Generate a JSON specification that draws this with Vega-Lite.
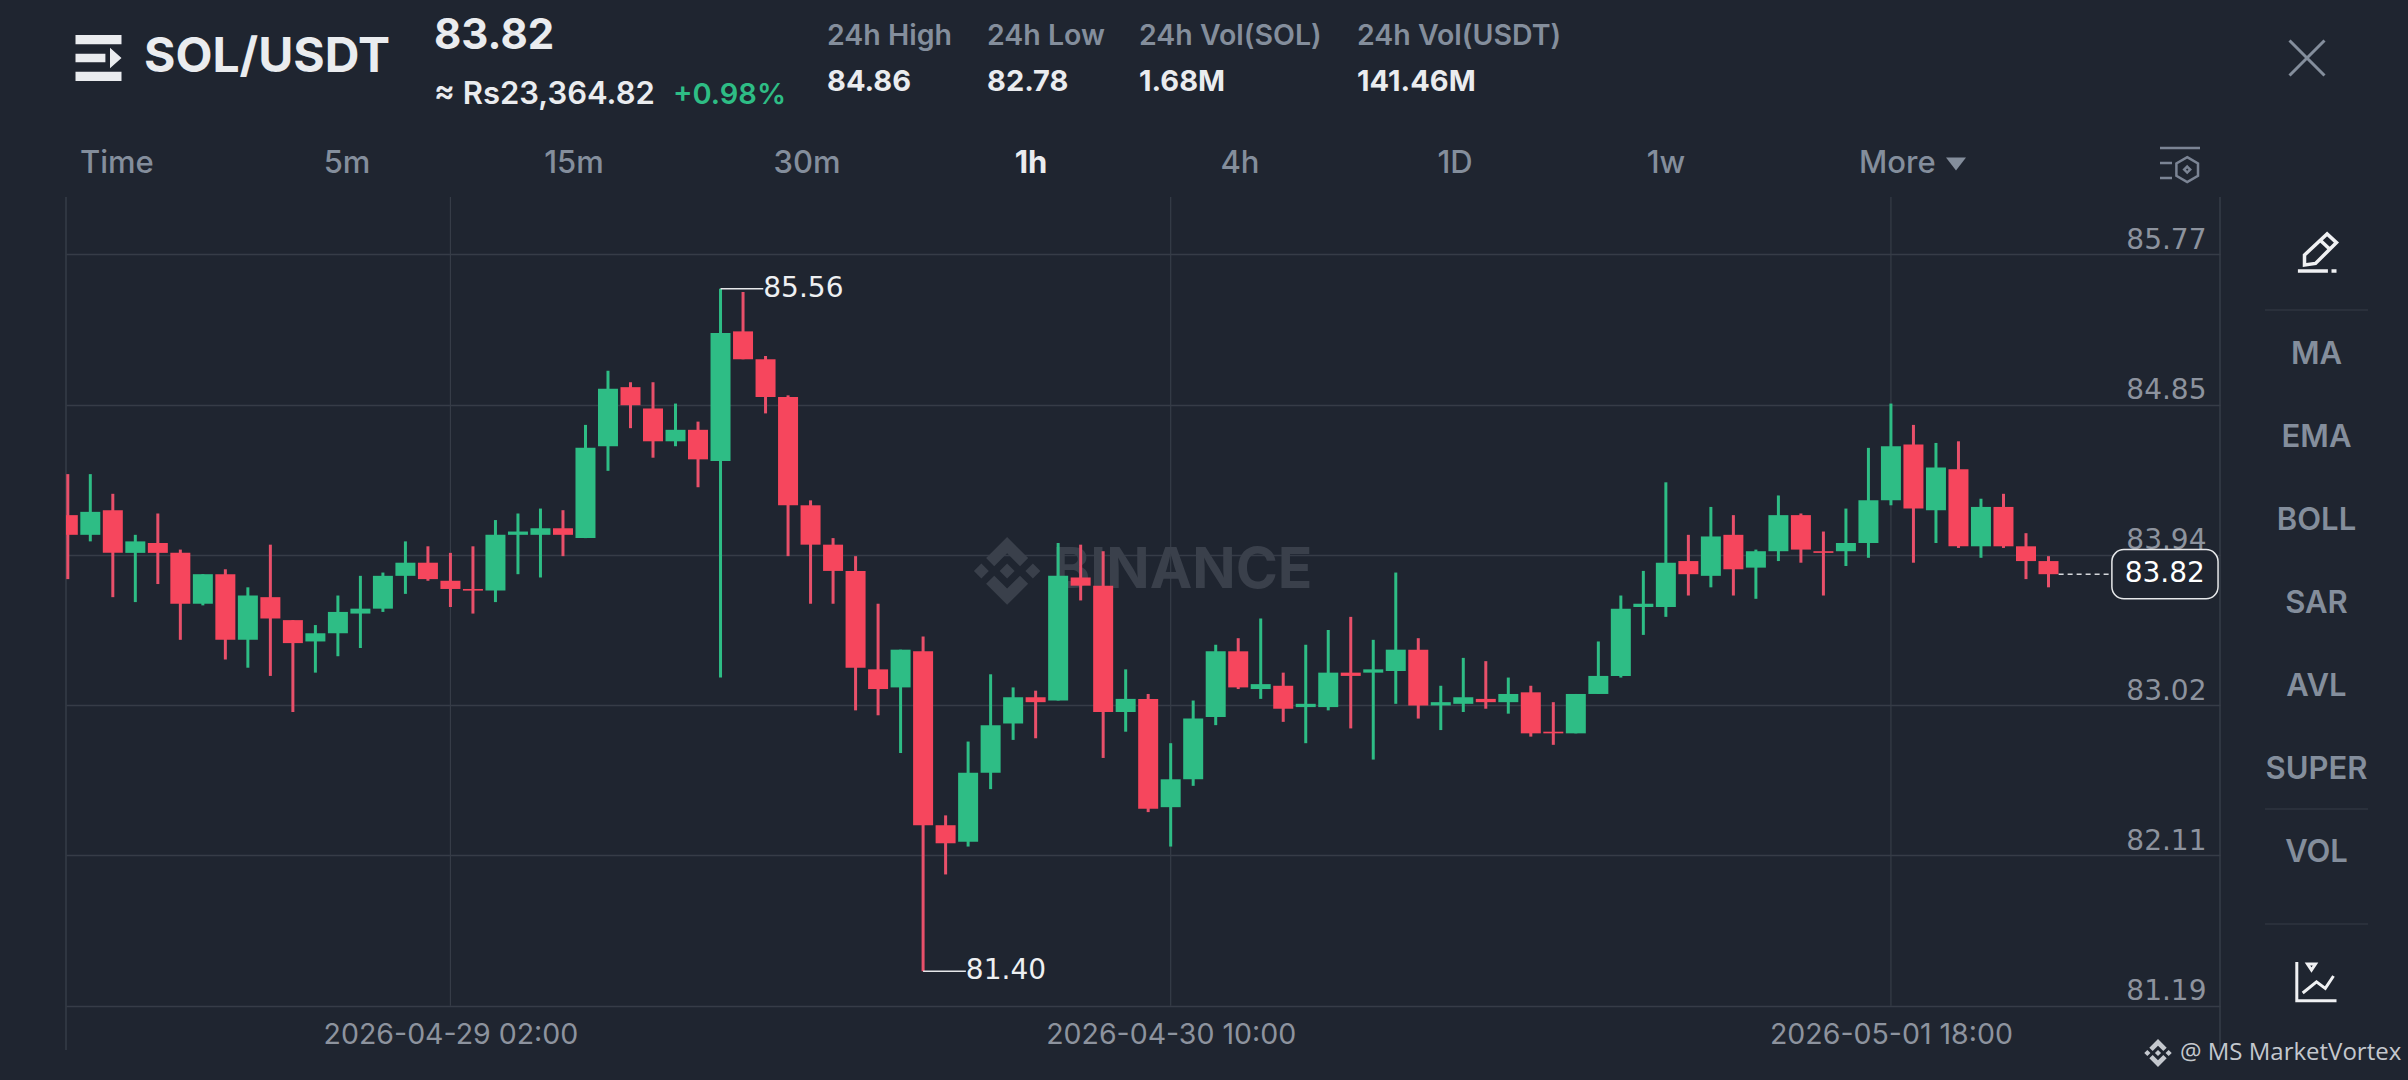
{
  "$schema": "https://vega.github.io/schema/vega-lite/v6.json",
  "width": 2154,
  "height": 853,
  "padding": {"left": 66, "top": 197, "right": 188, "bottom": 30},
  "autosize": "none",
  "background": "#1f2530",
  "config": {
    "view": {"stroke": null},
    "text": {"font": "Inter"},
    "axis": {"labelFont": "Inter"}
  },
  "datasets": {
    "candles": [
      {"t":"2026-04-28T09:00:00Z","o":84.18,"h":84.43,"l":83.79,"c":84.06},
      {"t":"2026-04-28T10:00:00Z","o":84.06,"h":84.43,"l":84.02,"c":84.20},
      {"t":"2026-04-28T11:00:00Z","o":84.21,"h":84.31,"l":83.68,"c":83.95},
      {"t":"2026-04-28T12:00:00Z","o":83.95,"h":84.06,"l":83.65,"c":84.02},
      {"t":"2026-04-28T13:00:00Z","o":84.01,"h":84.19,"l":83.76,"c":83.95},
      {"t":"2026-04-28T14:00:00Z","o":83.95,"h":83.97,"l":83.42,"c":83.64},
      {"t":"2026-04-28T15:00:00Z","o":83.64,"h":83.82,"l":83.63,"c":83.82},
      {"t":"2026-04-28T16:00:00Z","o":83.82,"h":83.85,"l":83.30,"c":83.42},
      {"t":"2026-04-28T17:00:00Z","o":83.42,"h":83.74,"l":83.25,"c":83.69},
      {"t":"2026-04-28T18:00:00Z","o":83.68,"h":84.00,"l":83.20,"c":83.55},
      {"t":"2026-04-28T19:00:00Z","o":83.54,"h":83.54,"l":82.98,"c":83.40},
      {"t":"2026-04-28T20:00:00Z","o":83.41,"h":83.51,"l":83.22,"c":83.46},
      {"t":"2026-04-28T21:00:00Z","o":83.46,"h":83.69,"l":83.32,"c":83.59},
      {"t":"2026-04-28T22:00:00Z","o":83.58,"h":83.81,"l":83.37,"c":83.61},
      {"t":"2026-04-28T23:00:00Z","o":83.61,"h":83.83,"l":83.59,"c":83.81},
      {"t":"2026-04-29T00:00:00Z","o":83.81,"h":84.02,"l":83.70,"c":83.89},
      {"t":"2026-04-29T01:00:00Z","o":83.89,"h":83.99,"l":83.78,"c":83.79},
      {"t":"2026-04-29T02:00:00Z","o":83.78,"h":83.95,"l":83.62,"c":83.73},
      {"t":"2026-04-29T03:00:00Z","o":83.73,"h":83.99,"l":83.58,"c":83.72},
      {"t":"2026-04-29T04:00:00Z","o":83.72,"h":84.15,"l":83.65,"c":84.06},
      {"t":"2026-04-29T05:00:00Z","o":84.06,"h":84.19,"l":83.82,"c":84.08},
      {"t":"2026-04-29T06:00:00Z","o":84.06,"h":84.22,"l":83.80,"c":84.10},
      {"t":"2026-04-29T07:00:00Z","o":84.10,"h":84.21,"l":83.93,"c":84.06},
      {"t":"2026-04-29T08:00:00Z","o":84.04,"h":84.73,"l":84.04,"c":84.59},
      {"t":"2026-04-29T09:00:00Z","o":84.60,"h":85.06,"l":84.45,"c":84.95},
      {"t":"2026-04-29T10:00:00Z","o":84.96,"h":84.99,"l":84.71,"c":84.85},
      {"t":"2026-04-29T11:00:00Z","o":84.83,"h":84.99,"l":84.53,"c":84.63},
      {"t":"2026-04-29T12:00:00Z","o":84.63,"h":84.86,"l":84.60,"c":84.70},
      {"t":"2026-04-29T13:00:00Z","o":84.70,"h":84.75,"l":84.35,"c":84.52},
      {"t":"2026-04-29T14:00:00Z","o":84.51,"h":85.56,"l":83.19,"c":85.29},
      {"t":"2026-04-29T15:00:00Z","o":85.30,"h":85.54,"l":85.13,"c":85.13},
      {"t":"2026-04-29T16:00:00Z","o":85.13,"h":85.15,"l":84.80,"c":84.90},
      {"t":"2026-04-29T17:00:00Z","o":84.90,"h":84.91,"l":83.93,"c":84.24},
      {"t":"2026-04-29T18:00:00Z","o":84.24,"h":84.27,"l":83.64,"c":84.00},
      {"t":"2026-04-29T19:00:00Z","o":84.00,"h":84.04,"l":83.64,"c":83.84},
      {"t":"2026-04-29T20:00:00Z","o":83.84,"h":83.93,"l":82.99,"c":83.25},
      {"t":"2026-04-29T21:00:00Z","o":83.24,"h":83.64,"l":82.96,"c":83.12},
      {"t":"2026-04-29T22:00:00Z","o":83.13,"h":83.36,"l":82.73,"c":83.36},
      {"t":"2026-04-29T23:00:00Z","o":83.35,"h":83.44,"l":81.40,"c":82.29},
      {"t":"2026-04-30T00:00:00Z","o":82.29,"h":82.35,"l":81.99,"c":82.18},
      {"t":"2026-04-30T01:00:00Z","o":82.19,"h":82.80,"l":82.16,"c":82.61},
      {"t":"2026-04-30T02:00:00Z","o":82.61,"h":83.21,"l":82.51,"c":82.90},
      {"t":"2026-04-30T03:00:00Z","o":82.91,"h":83.13,"l":82.81,"c":83.07},
      {"t":"2026-04-30T04:00:00Z","o":83.07,"h":83.11,"l":82.82,"c":83.04},
      {"t":"2026-04-30T05:00:00Z","o":83.05,"h":84.01,"l":83.05,"c":83.81},
      {"t":"2026-04-30T06:00:00Z","o":83.80,"h":84.00,"l":83.66,"c":83.75},
      {"t":"2026-04-30T07:00:00Z","o":83.75,"h":83.96,"l":82.70,"c":82.98},
      {"t":"2026-04-30T08:00:00Z","o":82.98,"h":83.24,"l":82.86,"c":83.06},
      {"t":"2026-04-30T09:00:00Z","o":83.06,"h":83.09,"l":82.37,"c":82.39},
      {"t":"2026-04-30T10:00:00Z","o":82.40,"h":82.79,"l":82.16,"c":82.57},
      {"t":"2026-04-30T11:00:00Z","o":82.57,"h":83.05,"l":82.53,"c":82.94},
      {"t":"2026-04-30T12:00:00Z","o":82.95,"h":83.39,"l":82.90,"c":83.35},
      {"t":"2026-04-30T13:00:00Z","o":83.35,"h":83.43,"l":83.12,"c":83.13},
      {"t":"2026-04-30T14:00:00Z","o":83.12,"h":83.55,"l":83.06,"c":83.15},
      {"t":"2026-04-30T15:00:00Z","o":83.14,"h":83.22,"l":82.92,"c":83.00},
      {"t":"2026-04-30T16:00:00Z","o":83.01,"h":83.39,"l":82.79,"c":83.03},
      {"t":"2026-04-30T17:00:00Z","o":83.01,"h":83.48,"l":82.99,"c":83.22},
      {"t":"2026-04-30T18:00:00Z","o":83.22,"h":83.56,"l":82.88,"c":83.20},
      {"t":"2026-04-30T19:00:00Z","o":83.22,"h":83.42,"l":82.69,"c":83.24},
      {"t":"2026-04-30T20:00:00Z","o":83.23,"h":83.83,"l":83.03,"c":83.36},
      {"t":"2026-04-30T21:00:00Z","o":83.36,"h":83.43,"l":82.94,"c":83.02},
      {"t":"2026-04-30T22:00:00Z","o":83.02,"h":83.14,"l":82.87,"c":83.04},
      {"t":"2026-04-30T23:00:00Z","o":83.03,"h":83.31,"l":82.98,"c":83.07},
      {"t":"2026-05-01T00:00:00Z","o":83.06,"h":83.29,"l":83.00,"c":83.04},
      {"t":"2026-05-01T01:00:00Z","o":83.04,"h":83.19,"l":82.97,"c":83.09},
      {"t":"2026-05-01T02:00:00Z","o":83.10,"h":83.14,"l":82.83,"c":82.85},
      {"t":"2026-05-01T03:00:00Z","o":82.86,"h":83.04,"l":82.78,"c":82.85},
      {"t":"2026-05-01T04:00:00Z","o":82.85,"h":83.09,"l":82.85,"c":83.09},
      {"t":"2026-05-01T05:00:00Z","o":83.09,"h":83.41,"l":83.09,"c":83.20},
      {"t":"2026-05-01T06:00:00Z","o":83.20,"h":83.69,"l":83.19,"c":83.61},
      {"t":"2026-05-01T07:00:00Z","o":83.62,"h":83.84,"l":83.45,"c":83.64},
      {"t":"2026-05-01T08:00:00Z","o":83.62,"h":84.38,"l":83.56,"c":83.89},
      {"t":"2026-05-01T09:00:00Z","o":83.90,"h":84.06,"l":83.69,"c":83.82},
      {"t":"2026-05-01T10:00:00Z","o":83.81,"h":84.23,"l":83.74,"c":84.05},
      {"t":"2026-05-01T11:00:00Z","o":84.06,"h":84.18,"l":83.69,"c":83.85},
      {"t":"2026-05-01T12:00:00Z","o":83.86,"h":83.97,"l":83.67,"c":83.96},
      {"t":"2026-05-01T13:00:00Z","o":83.96,"h":84.30,"l":83.90,"c":84.18},
      {"t":"2026-05-01T14:00:00Z","o":84.18,"h":84.19,"l":83.89,"c":83.97},
      {"t":"2026-05-01T15:00:00Z","o":83.96,"h":84.08,"l":83.69,"c":83.95},
      {"t":"2026-05-01T16:00:00Z","o":83.96,"h":84.22,"l":83.87,"c":84.01},
      {"t":"2026-05-01T17:00:00Z","o":84.01,"h":84.59,"l":83.92,"c":84.27},
      {"t":"2026-05-01T18:00:00Z","o":84.27,"h":84.86,"l":84.24,"c":84.60},
      {"t":"2026-05-01T19:00:00Z","o":84.61,"h":84.73,"l":83.89,"c":84.22},
      {"t":"2026-05-01T20:00:00Z","o":84.21,"h":84.62,"l":84.01,"c":84.47},
      {"t":"2026-05-01T21:00:00Z","o":84.46,"h":84.63,"l":83.98,"c":83.99},
      {"t":"2026-05-01T22:00:00Z","o":83.99,"h":84.28,"l":83.92,"c":84.23},
      {"t":"2026-05-01T23:00:00Z","o":84.23,"h":84.31,"l":83.98,"c":83.99},
      {"t":"2026-05-02T00:00:00Z","o":83.99,"h":84.07,"l":83.79,"c":83.90},
      {"t":"2026-05-02T01:00:00Z","o":83.90,"h":83.93,"l":83.74,"c":83.82}
    ]
  },
  "layer": [
    {
      "encoding": {
        "x": {
          "field": "t",
          "type": "temporal",
          "scale": {"type": "utc", "domain": ["2026-04-28T08:55:12Z", "2026-05-02T08:37:12Z"], "nice": false, "padding": 0},
          "axis": {
            "title": null,
            "values": ["2026-04-29T02:00:00Z", "2026-04-30T10:00:00Z", "2026-05-01T18:00:00Z"],
            "labelExpr": "utcFormat(datum.value, '%Y-%m-%d %H:%M')",
            "grid": false,
            "domain": false,
            "ticks": false,
            "labelLimit": 0,
            "labelPadding": -16,
            "labelBaseline": "middle",
            "labelFontSize": 28.5,
            "labelColor": "#8d939e"
          }
        },
        "y": {
          "type": "quantitative",
          "scale": {"domain": [80.92, 86.119], "zero": false, "nice": false},
          "axis": {
            "title": null,
            "orient": "right",
            "values": [85.77, 84.854, 83.938, 83.022, 82.106, 81.19],
            "format": ".2f",
            "grid": true,
            "gridColor": "#363c47",
            "gridWidth": 1.5,
            "domain": false,
            "ticks": false,
            "labelAlign": "right",
            "labelBaseline": "alphabetic",
            "labelPadding": -14,
            "labelOffset": -6,
            "labelFont": "DejaVu Sans",
            "labelFontSize": 28,
            "labelColor": "#8d939e"
          }
        }
      },
      "layer": [
        {
          "data": {"values": [{"t": "2026-04-29T02:00:00Z"}, {"t": "2026-04-30T10:00:00Z"}, {"t": "2026-05-01T18:00:00Z"}]},
          "mark": {"type": "rule", "stroke": "#363c47", "strokeWidth": 1.2},
          "encoding": {"y": {"datum": 81.19, "type": "quantitative"}, "y2": {"datum": 86.119}}
        },
        {
          "data": {"values": [{"t": "2026-04-28T08:55:12Z"}, {"t": "2026-05-02T08:37:12Z"}]},
          "mark": {"type": "rule", "stroke": "#363c47", "strokeWidth": 1.5},
          "encoding": {"y": {"datum": 80.92, "type": "quantitative"}, "y2": {"datum": 86.119}}
        },
        {
          "data": {"values": [{"t": "2026-04-30T04:45:00Z", "p": 83.84, "label": "BINANCE"}]},
          "mark": {"type": "text", "align": "left", "baseline": "middle", "fontSize": 57, "fontWeight": 700, "fill": "#3a404b"},
          "encoding": {"y": {"field": "p"}, "text": {"field": "label"}}
        },
        {
          "data": {"values": [{"t": "2026-04-30T02:44:00Z", "p": 83.84}]},
          "mark": {"type": "point", "filled": true, "fill": "#3a404b", "strokeWidth": 0, "opacity": 1, "size": 4600,
            "shape": "M0,-1 L.62,-.38 L.38,-.14 L0,-.52 L-.38,-.14 L-.62,-.38 Z M0,1 L.62,.38 L.38,.14 L0,.52 L-.38,.14 L-.62,.38 Z M0,-.22 L.22,0 L0,.22 L-.22,0 Z M-.76,-.22 L-.54,0 L-.76,.22 L-.98,0 Z M.76,-.22 L.98,0 L.76,.22 L.54,0 Z"},
          "encoding": {"y": {"field": "p"}}
        },
        {
          "data": {"name": "candles"},
          "mark": {"type": "rule", "strokeWidth": 3, "clip": true},
          "encoding": {
            "y": {"field": "l"},
            "y2": {"field": "h"},
            "stroke": {"condition": {"test": "datum.c >= datum.o", "value": "#2ebd85"}, "value": "#e8506a"}
          }
        },
        {
          "data": {"name": "candles"},
          "mark": {"type": "bar", "size": 20, "orient": "vertical", "clip": true},
          "encoding": {
            "y": {"field": "o"},
            "y2": {"field": "c"},
            "fill": {"condition": {"test": "datum.c >= datum.o", "value": "#2ebd85"}, "value": "#f6465d"}
          }
        },
        {
          "data": {"values": [
            {"t": "2026-04-29T14:00:00Z", "t2": "2026-04-29T15:54:00Z", "p": 85.56, "label": "85.56"},
            {"t": "2026-04-29T23:00:00Z", "t2": "2026-04-30T00:54:00Z", "p": 81.40, "label": "81.40"}
          ]},
          "layer": [
            {
              "mark": {"type": "rule", "stroke": "#e6e8ea", "strokeWidth": 1.5},
              "encoding": {"y": {"field": "p"}, "x2": {"field": "t2"}}
            },
            {
              "mark": {"type": "text", "align": "left", "baseline": "middle", "dx": 0, "font": "DejaVu Sans", "fontSize": 28, "fill": "#eef0f2"},
              "encoding": {"x": {"field": "t2", "type": "temporal"}, "y": {"field": "p"}, "text": {"field": "label"}}
            }
          ]
        },
        {
          "data": {"values": [{"t": "2026-05-02T01:27:00Z", "t2": "2026-05-02T03:49:00Z", "p": 83.82}]},
          "mark": {"type": "rule", "stroke": "#d5d8dc", "strokeWidth": 1.5, "strokeDash": [5, 4]},
          "encoding": {"y": {"field": "p"}, "x2": {"field": "t2"}}
        },
        {
          "data": {"values": [{"t": "2026-05-02T03:49:00Z", "t2": "2026-05-02T08:32:00Z", "p": 83.67, "p2": 83.97}]},
          "mark": {"type": "rect", "fill": "#1f2530", "stroke": "#e6e8ea", "strokeWidth": 1.5, "cornerRadius": 12},
          "encoding": {"y": {"field": "p"}, "y2": {"field": "p2"}, "x2": {"field": "t2"}}
        },
        {
          "data": {"values": [{"t": "2026-05-02T06:10:00Z", "p": 83.82, "label": "83.82"}]},
          "mark": {"type": "text", "align": "center", "baseline": "middle", "font": "DejaVu Sans", "fontSize": 28, "fill": "#ffffff"},
          "encoding": {"y": {"field": "p"}, "text": {"field": "label"}}
        }
      ]
    },
    {
      "encoding": {
        "x": {
          "field": "col",
          "type": "quantitative",
          "axis": null,
          "scale": {
            "domain": [0,1,2,3,4,5,6,7,8,9,10,11,12,13,14,15,16,17,18,19,20,21,22,23],
            "range": [14,32.5,78,281,368,508,607,741,761,921,965,1073,1174,1291,1389,1600,1793,1890,2092,2114,2199,2241,2250.5,2302],
            "zero": false,
            "nice": false
          }
        },
        "y": {
          "field": "row",
          "type": "quantitative",
          "axis": null,
          "scale": {
            "domain": [0,1,2,3,4,5,6,7,8,9,10,11,12,13,14,15,16,17],
            "range": [-161,-139,-115.5,-102,-33,55,113,158,241,324,407,490,573,612,656,727,784,856],
            "zero": false,
            "nice": false
          }
        }
      },
      "layer": [
        {
          "data": {"values": [{"label": "SOL/USDT", "col": 2, "row": 1}]},
          "mark": {"type": "text", "align": "left", "baseline": "middle", "fontSize": 48, "fontWeight": 700, "fill": "#eaecef"},
          "encoding": {"text": {"field": "label"}}
        },
        {
          "data": {"values": [{"label": "83.82", "col": 4, "row": 0}]},
          "mark": {"type": "text", "align": "left", "baseline": "middle", "fontSize": 42, "fontWeight": 700, "fill": "#eaecef"},
          "encoding": {"text": {"field": "label"}}
        },
        {
          "data": {"values": [{"label": "≈ Rs23,364.82", "col": 4, "row": 3}]},
          "mark": {"type": "text", "align": "left", "baseline": "middle", "fontSize": 31, "fontWeight": 600, "fill": "#eaecef"},
          "encoding": {"text": {"field": "label"}}
        },
        {
          "data": {"values": [{"label": "+0.98%", "col": 6, "row": 3}]},
          "mark": {"type": "text", "align": "left", "baseline": "middle", "fontSize": 29, "fontWeight": 600, "fill": "#2ebd85"},
          "encoding": {"text": {"field": "label"}}
        },
        {
          "data": {"values": [
            {"label": "24h High", "col": 8, "row": 0},
            {"label": "24h Low", "col": 9, "row": 0},
            {"label": "24h Vol(SOL)", "col": 11, "row": 0},
            {"label": "24h Vol(USDT)", "col": 13, "row": 0}
          ]},
          "mark": {"type": "text", "align": "left", "baseline": "middle", "fontSize": 28.5, "fontWeight": 600, "fill": "#848e9c"},
          "encoding": {"text": {"field": "label"}}
        },
        {
          "data": {"values": [
            {"label": "84.86", "col": 8, "row": 2},
            {"label": "82.78", "col": 9, "row": 2},
            {"label": "1.68M", "col": 11, "row": 2},
            {"label": "141.46M", "col": 13, "row": 2}
          ]},
          "mark": {"type": "text", "align": "left", "baseline": "middle", "fontSize": 29, "fontWeight": 700, "fill": "#eaecef"},
          "encoding": {"text": {"field": "label"}}
        },
        {
          "data": {"values": [{"label": "Time", "col": 0, "row": 4}, {"label": "More", "col": 16, "row": 4}]},
          "mark": {"type": "text", "align": "left", "baseline": "middle", "fontSize": 31, "fontWeight": 500, "fill": "#848e9c"},
          "encoding": {"text": {"field": "label"}}
        },
        {
          "data": {"values": [
            {"label": "5m", "col": 3, "row": 4},
            {"label": "15m", "col": 5, "row": 4},
            {"label": "30m", "col": 7, "row": 4},
            {"label": "4h", "col": 12, "row": 4},
            {"label": "1D", "col": 14, "row": 4},
            {"label": "1w", "col": 15, "row": 4}
          ]},
          "mark": {"type": "text", "align": "center", "baseline": "middle", "fontSize": 31, "fontWeight": 500, "fill": "#848e9c"},
          "encoding": {"text": {"field": "label"}}
        },
        {
          "data": {"values": [{"label": "1h", "col": 10, "row": 4}]},
          "mark": {"type": "text", "align": "center", "baseline": "middle", "fontSize": 31, "fontWeight": 700, "fill": "#eaecef"},
          "encoding": {"text": {"field": "label"}}
        },
        {
          "data": {"values": [
            {"label": "MA", "col": 22, "row": 7},
            {"label": "EMA", "col": 22, "row": 8},
            {"label": "BOLL", "col": 22, "row": 9},
            {"label": "SAR", "col": 22, "row": 10},
            {"label": "AVL", "col": 22, "row": 11},
            {"label": "SUPER", "col": 22, "row": 12},
            {"label": "VOL", "col": 22, "row": 14}
          ]},
          "mark": {"type": "text", "align": "center", "baseline": "middle", "fontSize": 31, "fontWeight": 600, "fill": "#848e9c"},
          "encoding": {"text": {"field": "label"}}
        },
        {
          "data": {"values": [{"col": 20, "col2": 23, "row": 6}, {"col": 20, "col2": 23, "row": 13}, {"col": 20, "col2": 23, "row": 15}]},
          "mark": {"type": "rule", "stroke": "#363c47", "strokeWidth": 1.2},
          "encoding": {"x2": {"field": "col2"}}
        },
        {
          "data": {"values": [{"label": "@ MS MarketVortex", "col": 19, "row": 17}]},
          "mark": {"type": "text", "align": "left", "baseline": "middle", "font": "Open Sans", "fontSize": 24, "fill": "#c4c8ce"},
          "encoding": {"text": {"field": "label"}}
        },
        {
          "data": {"values": [{"col": 18, "row": 17}]},
          "mark": {"type": "point", "filled": true, "fill": "#c4c8ce", "strokeWidth": 0, "opacity": 1, "size": 784,
            "shape": "M0,-1 L.62,-.38 L.38,-.14 L0,-.52 L-.38,-.14 L-.62,-.38 Z M0,1 L.62,.38 L.38,.14 L0,.52 L-.38,.14 L-.62,.38 Z M0,-.22 L.22,0 L0,.22 L-.22,0 Z M-.76,-.22 L-.54,0 L-.76,.22 L-.98,0 Z M.76,-.22 L.98,0 L.76,.22 L.54,0 Z"}
        },
        {
          "data": {"values": [{"col": 1, "row": 1}]},
          "mark": {"type": "point", "filled": true, "fill": "#eaecef", "strokeWidth": 0, "opacity": 1, "size": 2116,
            "shape": "M-1,-1 H1 V-.6 H-1 Z M-1,.6 H1 V1 H-1 Z M-1,-.18 H.3 V.18 H-1 Z M.5,-.45 L1,0 L.5,.45 Z"}
        },
        {
          "data": {"values": [{"col": 17, "row": 4}]},
          "mark": {"type": "point", "filled": true, "fill": "#848e9c", "strokeWidth": 0, "opacity": 1, "size": 400,
            "shape": "M-1,-.65 H1 L0,.65 Z"}
        },
        {
          "data": {"values": [{"col": 21, "row": 1}]},
          "mark": {"type": "point", "filled": false, "stroke": "#848e9c", "strokeWidth": 3, "opacity": 1, "size": 1224,
            "shape": "M-1,-1 L1,1 M-1,1 L1,-1"}
        },
        {
          "data": {"values": [{"col": 19, "row": 4}]},
          "mark": {"type": "point", "filled": false, "stroke": "#7b8494", "strokeWidth": 2.5, "opacity": 1, "size": 1600,
            "shape": "M-1,-.8 H1 M-1,-.05 H-.4 M-1,.7 H-.4 M.36,-.34 L.9,-.03 L.9,.59 L.36,.9 L-.18,.59 L-.18,-.03 Z M.36,.13 L.51,.28 L.36,.43 L.21,.28 Z"}
        },
        {
          "data": {"values": [{"col": 22, "row": 5}]},
          "mark": {"type": "point", "filled": false, "stroke": "#f0f1f3", "strokeWidth": 3.5, "opacity": 1, "size": 1600,
            "shape": "M-.6,.65 L-.6,.15 L.53,-.9 L1,-.47 L-.05,.57 Z M.2,-.58 L.68,-.12 M-.93,.95 H.57 M.75,.95 H1"}
        },
        {
          "data": {"values": [{"col": 22, "row": 16}]},
          "mark": {"type": "point", "filled": false, "stroke": "#f0f1f3", "strokeWidth": 3, "opacity": 1, "size": 1600,
            "shape": "M-.985,-.95 V.985 H1 M-.69,.6 L0,.04 L.44,.37 L.85,-.25 M-.45,-.85 H-.05 L-.25,-.55 Z"}
        }
      ]
    }
  ],
  "resolve": {"scale": {"x": "independent", "y": "independent"}}
}
